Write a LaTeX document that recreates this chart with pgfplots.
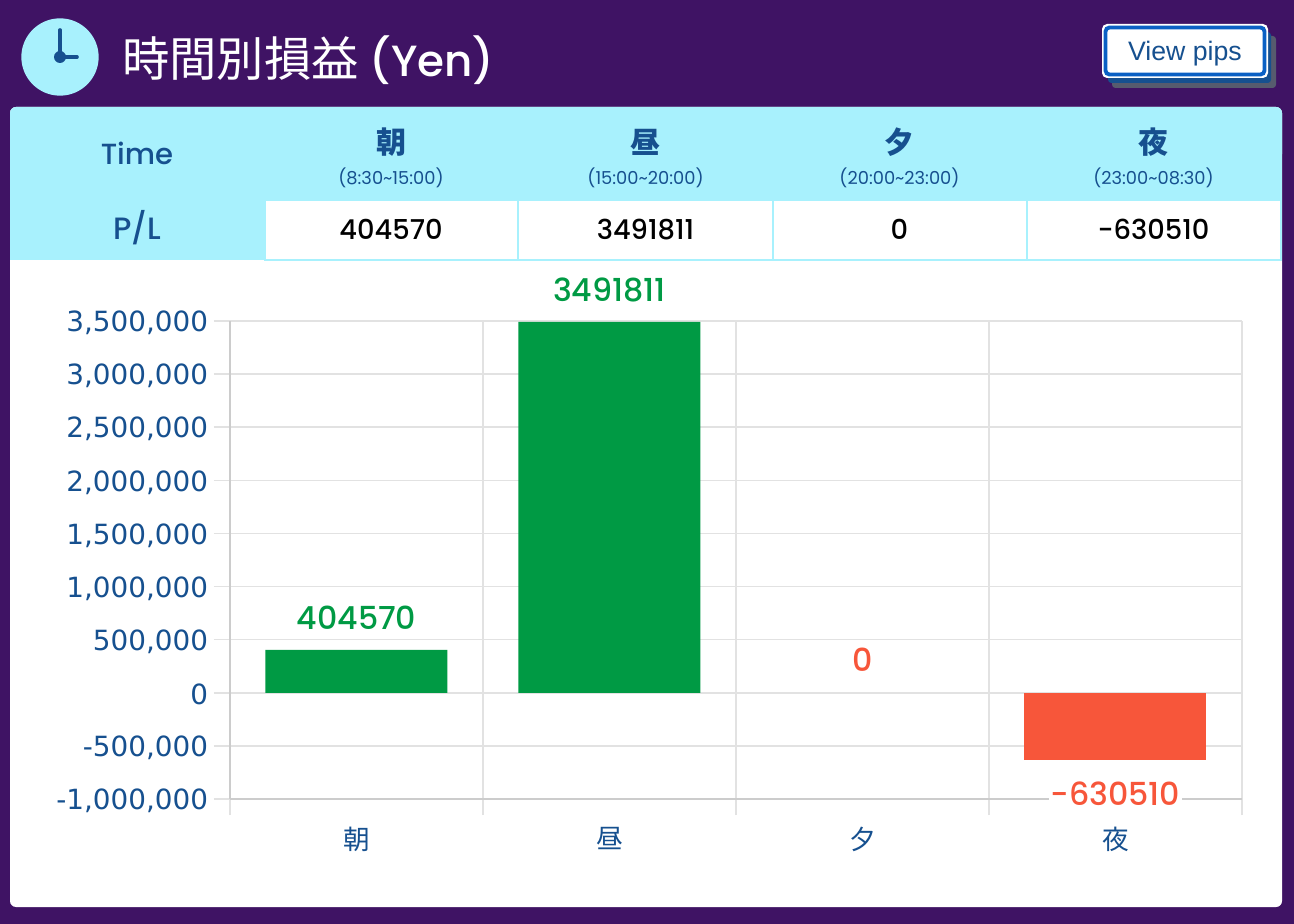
\documentclass[border=0pt]{standalone}
\usepackage{fontspec}
\usepackage{pgfplots}
\pgfplotsset{compat=1.18}
\setmainfont{Poppins}
\newfontfamily\popm{Poppins Medium}
\newfontfamily\cjk{Noto Sans CJK JP}
\newfontfamily\lib{Liberation Sans}
\newfontfamily\dv{DejaVu Sans}
\definecolor{bgp}{HTML}{3F1364}
\definecolor{cy}{HTML}{A8F1FD}
\definecolor{nb}{HTML}{16508F}
\definecolor{gr}{HTML}{009A44}
\definecolor{rd}{HTML}{F7563A}
\definecolor{gl}{HTML}{E2E2E2}
\definecolor{gd}{HTML}{CCCCCC}
\definecolor{btn}{HTML}{0A60C4}
\definecolor{shd}{HTML}{565B6E}
\newcommand{\fs}[1]{\fontsize{#1}{#1}\selectfont}
\begin{document}
\begin{tikzpicture}[x=0.6pt,y=-0.6pt]
\useasboundingbox (0,0) rectangle (1294,924);
\fill[bgp] (0,0) rectangle (1294,924);
\fill[white,rounded corners=3.6pt] (10,107) rectangle (1282,907);
% header
\fill[cy,rounded corners=3.6pt] (10,107) rectangle (1282,160);
\fill[cy] (10,130) rectangle (1282,201);
\fill[cy] (10,200) rectangle (265,260);
\foreach \a/\b in {265/518,518/773,773/1027,1027/1281}{
  \fill[cy] (\a-1,200) rectangle (\b+1,261);
  \fill[white] (\a+1,201) rectangle (\b-1,259);
}
% title & clock
\fill[cy] (60,57) circle[radius=23.2pt];
\draw[nb,line width=2.2pt,line cap=round] (60,30) -- (60,57) -- (77,57);
\fill[nb] (60,57) circle[radius=3.6pt];
\node[anchor=base west,white,inner sep=0pt] at (122,77) {\cjk\fs{28.4}時間別損益 \popm\fs{26.2}(Yen)};
% button
\fill[shd,rounded corners=2pt] (1112,36) rectangle (1276,88);
\fill[nb,rounded corners=2pt] (1108,32) rectangle (1271,83);
\fill[white,rounded corners=3pt] (1102,24) rectangle (1268,78);
\draw[btn,line width=2.3pt,rounded corners=2.4pt] (1105.5,27.5) rectangle (1264.5,74.5);
\node[nb,inner sep=0pt,anchor=base] at (1185,61) {\lib\fs{16}View pips};
% table text
\node[nb,inner sep=0pt,anchor=base] at (137,165) {\popm\fs{17.5}Time};
\node[nb,inner sep=0pt,anchor=base] at (137,240) {\popm\fs{18.5}P/L};
\foreach \x/\k/\t/\v in {391/朝/(8:30\textasciitilde15:00)/404570,645.5/昼/(15:00\textasciitilde20:00)/3491811,899.5/夕/(20:00\textasciitilde23:00)/0,1153.5/夜/(23:00\textasciitilde08:30)/-630510}{
  \node[nb,inner sep=0pt] at (\x,142) {\cjk\bfseries\fs{18}\k};
  \node[nb,inner sep=0pt,anchor=base] at (\x,184.5) {\fs{10.7}\t};
  \node[black,inner sep=0pt,anchor=base] at (\x,240) {\popm\fs{16.4}\v};
}
\coordinate (A) at (230,799);
\begin{axis}[
  at={(A)},anchor=south west,
  scale only axis,width=607.2pt,height=286.8pt,
  xmin=0,xmax=4,ymin=-1000000,ymax=3500000,
  ytick={-1000000,-500000,0,500000,1000000,1500000,2000000,2500000,3000000,3500000},
  scaled y ticks=false,
  /pgf/number format/.cd,assume math mode=true,1000 sep={,},fixed,precision=0,/pgfplots/.cd,
  xtick={0,1,2,3,4},
  x tick label as interval,
  xticklabels={朝,昼,夕,夜},
  xmajorgrids,ymajorgrids,
  major grid style={gl,line width=0.9pt},
  axis x line*=bottom,axis y line*=left,
  x axis line style={draw=gd,line width=0.9pt,-},
  y axis line style={draw=gd,line width=0.9pt,-},
  tick style={draw=gl,line width=0.9pt},
  major tick length=9.6pt,
  tick align=outside,
  x tick label style={font=\cjk\fs{16},text=nb,yshift=-7pt,inner sep=0pt},
  y tick label style={font=\fs{16.7}\dv,text=nb,xshift=-3.4pt,yshift=-1.2pt,inner sep=0pt},
  ybar,bar shift=0pt,bar width=109.2pt,
  clip=false,
  nodes near coords,
  point meta=explicit symbolic,
  every node near coord/.append style={font=\popm\addfontfeatures{Numbers=Monospaced}\fs{19},anchor=center},
]
\addplot[fill=gr,draw=none,every node near coord/.append style={text=gr,yshift=19.2pt}]
  coordinates {(0.5,404570)[404570] (1.5,3491811)[3491811]};
\addplot[fill=none,draw=none,every node near coord/.append style={text=rd,yshift=19.6pt}]
  coordinates {(2.5,0)[0]};
\addplot[fill=rd,draw=none,every node near coord/.append style={text=rd,yshift=-20.4pt,fill=white,inner sep=1pt}]
  coordinates {(3.5,-630510)[-630510]};
\end{axis}
\end{tikzpicture}
\end{document}
